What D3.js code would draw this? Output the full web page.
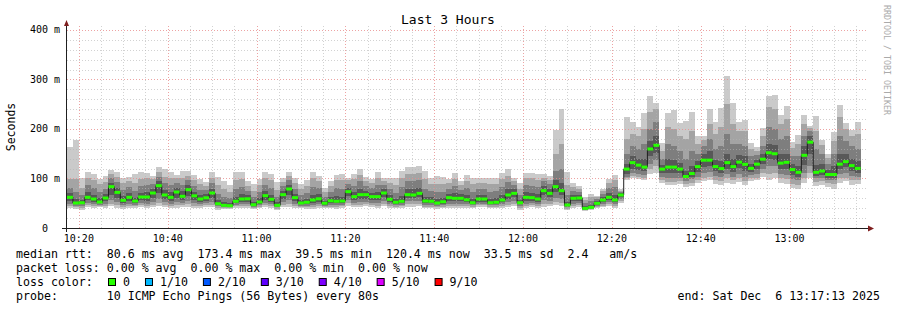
<!DOCTYPE html>
<html>
<head>
<meta charset="utf-8">
<script src="https://cdn.jsdelivr.net/npm/d3@7"></script>
<style>
body { margin: 0; background: #fff; }
svg text { font-family: "DejaVu Sans Mono", monospace; fill: #000; white-space: pre; }
</style>
</head>
<body>
<script>

// 10 pings per 80s step, sorted; ping5/6 folded into median
var ping1 = [40,38,36,42,40,42,40,44,40,38, 40,40,42,40,42,44,42,40,40,42, 42,40,40,42,42,36,38,38,40,40,
  40,38,40,42,40,36,42,42,40,40, 38,38,40,40,40,38,40,44,42,42, 44,42,40,44,40,40,40,42,42,44,
  40,40,38,40,40,40,40,40,40,42, 42,40,40,40,42,44,36,40,42,40, 42,44,46,44,36,40,42,34,36,40,
  42,44,40,50,96,100,98,96,110,112, 90,86,86,88,82,84,90,94,96,88, 86,90,88,92,86,94,96,104,96,100,
  90,88,80,78,90,100,84,86,82,78, 90,94,86,88];
var ping2 = [44,42,40,46,44,45,44,48,46,42, 44,44,46,44,46,50,46,44,46,46, 48,44,44,46,46,40,40,40,44,44,
  44,41,43,46,44,39,46,48,44,43, 42,42,44,42,43,42,44,50,46,46, 48,46,44,48,44,43,44,48,48,48,
  43,43,42,43,44,44,44,44,43,46, 46,43,43,44,46,48,40,44,46,44, 48,48,52,50,39,44,46,36,38,42,
  45,48,44,54,100,106,104,102,120,125, 96,92,92,94,88,90,96,102,104,96, 94,100,96,100,94,100,102,112,110,112,
  100,98,88,86,100,112,92,94,90,88, 100,102,96,96];
var ping3 = [48,45,44,50,48,47,48,56,52,46, 48,47,50,48,52,58,52,48,52,50, 54,50,48,50,52,44,42,42,47,48,
  48,43,46,50,48,42,52,56,48,45, 45,46,48,45,46,46,47,56,50,52, 52,50,50,54,48,46,47,54,54,54,
  46,46,45,46,48,48,48,48,46,49, 49,46,46,48,52,54,44,48,50,48, 56,54,60,58,42,48,50,37,39,44,
  48,52,48,58,104,112,110,108,130,138, 104,100,100,102,94,98,104,112,114,106, 104,110,104,110,104,108,110,120,125,125,
  110,108,98,96,112,125,100,102,96,96, 110,112,106,104];
var ping4 = [54,48,48,56,53,50,54,66,60,51, 55,50,56,55,60,70,58,54,60,56, 64,56,53,55,60,46,44,44,50,53,
  53,45,49,57,53,44,58,66,55,48, 48,51,53,47,50,50,50,64,56,58, 58,56,56,62,53,49,50,60,60,62,
  50,50,48,49,55,54,54,52,48,53, 53,48,49,52,58,62,48,55,55,53, 66,62,72,66,44,54,55,38,40,46,
  52,56,52,62,110,120,118,115,145,152, 112,112,112,112,100,104,114,124,126,116, 112,120,114,122,116,114,120,130,140,138,
  120,120,108,104,128,150,106,108,102,102, 120,124,116,112];
var median = [62,50.5,51,62,58.6,52.5,60.6,83.5,72,56, 62,54.5,62.6,62.6,70.7,85.5,66.7,62,72.7,64,
  77.4,65,58.6,61,70.7,49,45.8,45,54,58.6, 59,47,52.5,65.3,58,45.8,67.3,78.8,61.3,50.5,
  52,56.6,59,50,55,54,54.5,73.4,63.3,67.3, 67.3,63.3,63.3,70.7,58,52,54,67.3,66.7,70,
  54.5,54,50.5,53,61.3,60,60,57,51,58.6, 58.6,51,52,56.6,66.7,70,51,62,61.3,58.6,
  75.4,70,83.5,75.4,46.5,60,60.6,39.7,41.8,49.8, 56.6,62,56.6,66.7,119,132,127,123,159.6,167,
  119,123,123,119,104,110,124,137,137,124, 120,132,124,133,128.6,120.5,129,139,152,150,
  131,132.7,118,112.5,146.8,173.4,112.5,115,108,108, 129,134,126,120.4];
var ping7 = [70,58,56,72,66,60,68,90,80,64, 70,60,70,72,78,94,76,72,80,74, 86,72,66,68,78,56,52,50,62,68,
  66,52,60,74,66,52,74,86,68,56, 58,66,68,55,62,64,62,80,72,78, 74,70,72,78,66,58,64,78,78,80,
  62,62,58,60,68,70,68,66,58,66, 66,58,60,66,78,78,56,72,70,68, 84,78,96,90,52,66,66,44,46,54,
  62,70,66,70,130,145,140,140,175,185, 128,140,138,132,115,125,135,150,155,138, 135,150,140,148,145,130,138,150,170,168,
  150,150,130,125,165,185,128,130,118,125, 150,150,140,135];
var ping8 = [80,72,66,86,80,72,78,100,92,76, 82,74,84,86,88,104,90,86,90,86, 96,84,76,76,90,68,62,60,78,82,
  74,62,72,86,80,62,84,96,78,66, 70,82,80,62,72,80,78,88,84,94, 84,80,86,86,78,70,82,94,94,96,
  78,74,72,72,78,84,76,80,72,78, 78,72,74,82,92,86,66,86,84,82, 94,88,115,120,66,74,72,50,54,58,
  68,80,82,72,150,165,160,170,200,215, 140,170,165,155,140,155,150,165,180,160, 165,190,170,170,165,145,148,165,205,200,
  180,185,145,145,185,195,160,150,130,150, 185,175,165,160];
var ping9 = [98,98,80,100,96,88,92,110,104,90, 94,90,98,100,98,114,104,100,100,100, 106,96,88,84,102,86,78,72,96,98,
  84,74,86,100,96,76,92,106,90,78, 84,100,94,72,84,96,96,96,98,108, 94,90,100,94,90,86,100,110,110,112,
  98,88,88,88,90,98,86,94,88,90, 90,88,88,98,106,94,78,100,100,96, 102,96,150,170,86,82,78,56,62,62,
  74,90,96,75,180,190,185,200,235,240, 155,205,200,185,180,195,170,178,210,190, 205,250,210,195,195,160,156,185,245,240,
  210,220,162,170,210,202,195,168,142,175, 225,200,185,190];
var ping10 = [164,178,101,113,109,98,106,118,114,102, 104,110,113,111,106,123,119,114,107,116, 116,108,98,92,114,103,94,86,113,113,
  94,88,99,113,110,92,100,114,101,89, 97,114,106,81,94,108,109,102,109,120, 103,98,114,100,101,100,116,123,123,126,
  115,102,105,104,99,111,94,107,100,100, 100,100,100,112,120,102,90,112,112,110, 110,105,197,240,114,90,84,63,69,65,
  78,98,107,78,225,215,205,232,267,252, 171,232,238,213,216,234,186,186,240,215, 242,307,252,215,218,172,163,201,267,269,
  228,246,174,188,228,206,226,178,150,193, 248,213,198,214];

var yTicks = [0, 100, 200, 300, 400];
var yTickLabels = ["0  ", "100 m", "200 m", "300 m", "400 m"];

var legendLines = [
  "median rtt:  80.6 ms avg  173.4 ms max  39.5 ms min  120.4 ms now  33.5 ms sd  2.4   am/s",
  "packet loss: 0.00 % avg  0.00 % max  0.00 % min  0.00 % now"
];
var lossLabels = ["0", "1/10", "2/10", "3/10", "4/10", "5/10", "9/10"];
var lossColors = ["#26ff00", "#00b8ff", "#0059ff", "#5e00ff", "#7e00ff", "#dd00ff", "#ff0000"];
var probeText = "probe:       10 ICMP Echo Pings (56 Bytes) every 80s";
var endText = "end: Sat Dec  6 13:17:13 2025";

var W = 897, H = 310;
var svg = d3.select("body").append("svg")
    .attr("width", W)
    .attr("height", H);

svg.append("rect").attr("width", W).attr("height", H).attr("fill", "#fff");

var t0 = new Date(2025, 11, 6, 10, 17, 13),
    t1 = new Date(2025, 11, 6, 13, 17, 13),
    first = new Date(2025, 11, 6, 10, 17, 20),
    stepMs = 80 * 1000;

var x = d3.scaleTime().domain([t0, t1]).range([66.5, 866]);
var y = d3.scaleLinear().domain([0, 408]).range([228, 26]);

var steps = median.map(function(m, i) {
  return {
    t: new Date(+first + i * stepMs),
    p: [ping1[i], ping2[i], ping3[i], ping4[i], ping7[i], ping8[i], ping9[i], ping10[i]],
    med: m
  };
});
// extra point so the last step gets its width
var last = steps[steps.length - 1];
var stepPts = steps.concat([{ t: new Date(+last.t + stepMs), p: last.p, med: last.med }]);

// smoke, outer to inner
var smokeColors = ["#cacaca", "#a4a4a4", "#7e7e7e", "#585858"];
smokeColors.forEach(function(c, k) {
  var area = d3.area()
      .curve(d3.curveStepAfter)
      .x(function(d) { return x(d.t); })
      .y0(function(d) { return y(d.p[k]); })
      .y1(function(d) { return y(d.p[7 - k]); });
  svg.append("path")
      .attr("d", area(stepPts))
      .attr("fill", c)
      .attr("shape-rendering", "crispEdges");
});

// grid (drawn over the smoke, like rrdtool)
var grid = svg.append("g").attr("shape-rendering", "crispEdges");
d3.timeMinute.every(5).range(t0, t1).forEach(function(t) {
  var major = t.getMinutes() % 20 === 0;
  var xx = Math.round(x(t)) + 0.5;
  grid.append("line")
      .attr("x1", xx).attr("x2", xx)
      .attr("y1", 228).attr("y2", 26)
      .attr("stroke", major ? "#e88c8c" : "#b4b4b4")
      .attr("stroke-opacity", major ? 0.8 : 0.6)
      .attr("stroke-dasharray", "1,2");
});
d3.range(20, 420, 20).forEach(function(v) {
  var major = v % 100 === 0;
  var yy = Math.round(y(v)) + 0.5;
  grid.append("line")
      .attr("x1", 66.5).attr("x2", 866)
      .attr("y1", yy).attr("y2", yy)
      .attr("stroke", major ? "#e88c8c" : "#b4b4b4")
      .attr("stroke-opacity", major ? 0.8 : 0.6)
      .attr("stroke-dasharray", "1,2");
});

// median line
var medLine = d3.line()
    .curve(d3.curveStepAfter)
    .x(function(d) { return x(d.t); })
    .y(function(d) { return y(d.med); });
svg.append("path")
    .attr("d", medLine(stepPts))
    .attr("fill", "none")
    .attr("stroke", "#202020")
    .attr("stroke-width", 1);

// loss colored median band (all 0 loss)
svg.append("g").selectAll("rect")
    .data(steps)
    .enter().append("rect")
    .attr("x", function(d) { return x(d.t); })
    .attr("width", function(d) { return x(new Date(+d.t + stepMs)) - x(d.t); })
    .attr("y", function(d) { return y(d.med) - 1.5; })
    .attr("height", 3)
    .attr("fill", lossColors[0]);

// axes
svg.append("line")
    .attr("x1", 62).attr("x2", 869)
    .attr("y1", 228.5).attr("y2", 228.5)
    .attr("stroke", "#1f1f1f");
svg.append("line")
    .attr("x1", 66.5).attr("x2", 66.5)
    .attr("y1", 232).attr("y2", 24)
    .attr("stroke", "#1f1f1f");
svg.append("path")
    .attr("d", "M64,26L69,26L66.5,20Z")
    .attr("fill", "#7f1f1f");
svg.append("path")
    .attr("d", "M868,225.5L868,231.5L874,228.5Z")
    .attr("fill", "#7f1f1f");

// tick labels
svg.append("g").selectAll("text")
    .data(yTicks)
    .enter().append("text")
    .attr("x", 60)
    .attr("y", function(d) { return y(d) + 3.5; })
    .attr("text-anchor", "end")
    .style("font-size", "10px")
    .text(function(d, i) { return yTickLabels[i]; });

var fmt = d3.timeFormat("%H:%M");
svg.append("g").selectAll("text")
    .data(d3.timeMinute.every(20).range(t0, t1))
    .enter().append("text")
    .attr("x", function(d) { return x(d); })
    .attr("y", 242)
    .attr("text-anchor", "middle")
    .style("font-size", "10px")
    .text(fmt);

// titles
svg.append("text")
    .attr("x", 448).attr("y", 24)
    .attr("text-anchor", "middle")
    .style("font-size", "13px")
    .text("Last 3 Hours");

svg.append("text")
    .attr("transform", "translate(15,127) rotate(-90)")
    .attr("text-anchor", "middle")
    .style("font-size", "11.5px")
    .text("Seconds");

svg.append("text")
    .attr("transform", "translate(884,5) rotate(90)")
    .style("font-size", "8.3px")
    .style("fill", "#aaaaaa")
    .text("RRDTOOL / TOBI OETIKER");

// legend
var fs = "11.6px", charW = 6.98;
legendLines.forEach(function(s, i) {
  svg.append("text")
      .attr("x", 16).attr("y", 258 + i * 14)
      .style("font-size", fs)
      .text(s);
});
svg.append("text")
    .attr("x", 16).attr("y", 286)
    .style("font-size", fs)
    .text("loss color:");

var sx = 108;
lossLabels.forEach(function(l, i) {
  svg.append("rect")
      .attr("x", sx + 0.5).attr("y", 278.5)
      .attr("width", 7).attr("height", 7)
      .attr("fill", lossColors[i])
      .attr("stroke", "#000");
  svg.append("text")
      .attr("x", sx + 15).attr("y", 286)
      .style("font-size", fs)
      .text(l);
  sx = sx + 15 + l.length * charW + 15;
});

svg.append("text")
    .attr("x", 16).attr("y", 300)
    .style("font-size", fs)
    .text(probeText);
svg.append("text")
    .attr("x", 880).attr("y", 300)
    .attr("text-anchor", "end")
    .style("font-size", fs)
    .text(endText);

</script>
</body>
</html>
